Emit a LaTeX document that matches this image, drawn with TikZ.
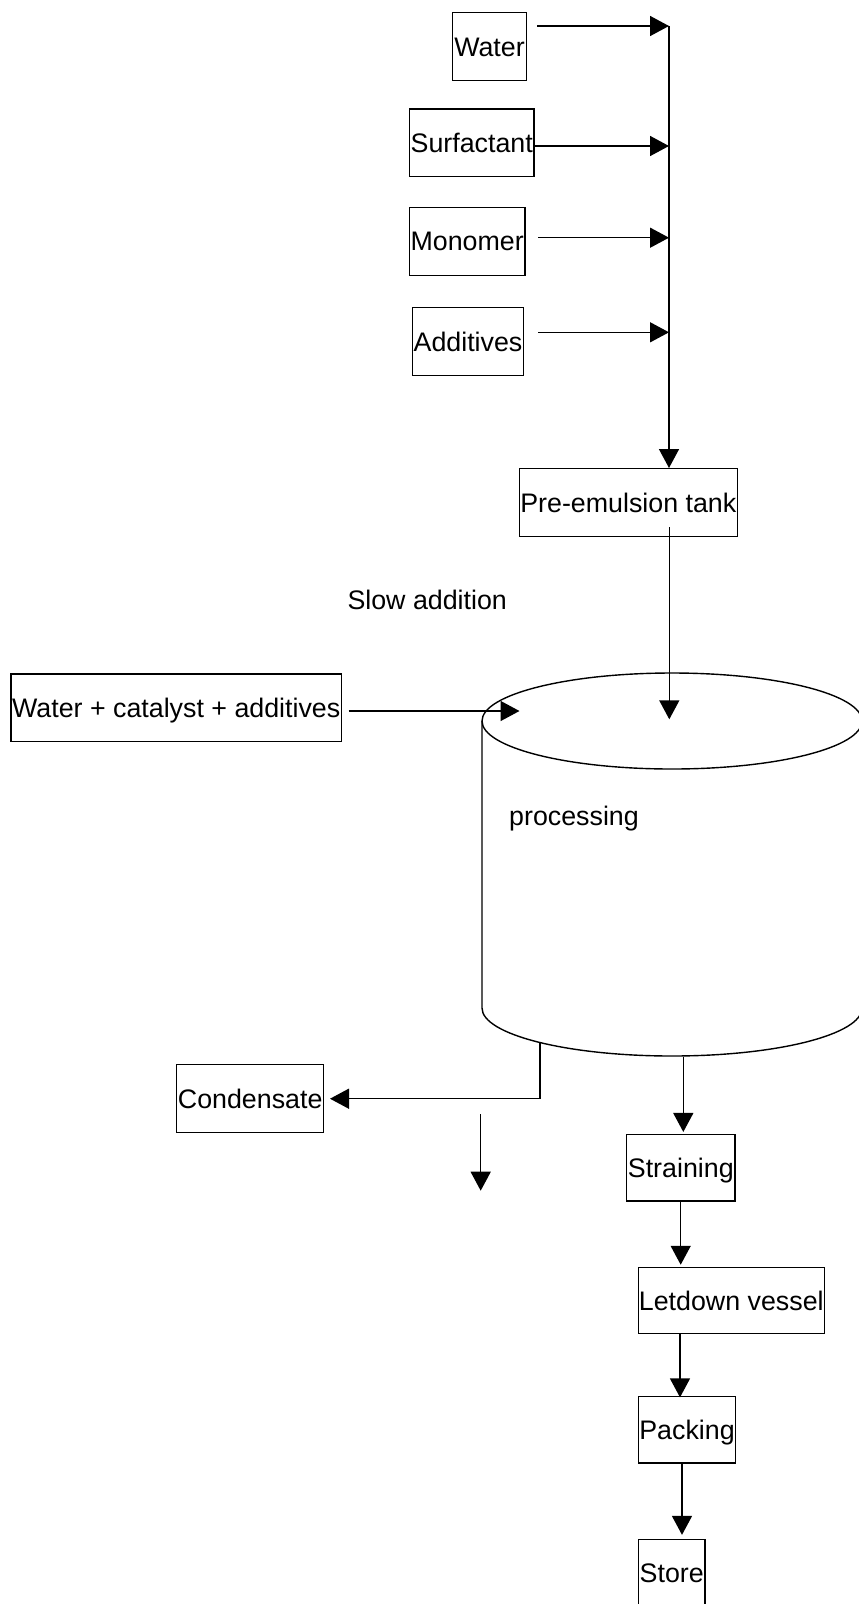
\documentclass[tikz,border=0pt]{standalone}
\usepackage{fontspec}
\setmainfont{Liberation Sans}
\usetikzlibrary{arrows.meta,calc}
\tikzset{
  box/.style={draw, line width=1.4pt, inner sep=0pt, text height=19.2pt, text depth=0pt,
    font=\fontsize{26.8}{30}\selectfont, anchor=center},
  lbl/.style={inner sep=0pt, font=\fontsize{26.8}{30}\selectfont},
  arr/.style={line width=1.5pt, -{Triangle[length=19pt,width=20pt]}},
  ln/.style={line width=1.4pt},
}
\begin{document}
\begin{tikzpicture}[x=1pt,y=-1pt]
\path[use as bounding box] (0,0) rectangle (859,1604);
\clip (0,0) rectangle (859,1604);

% input boxes
\node[box, minimum width=74.4pt, minimum height=67.6pt] (water) at (489.5,46.5) {Water};
\node[box, minimum width=124.7pt, minimum height=67.7pt] (surf) at (471.7,142.8) {Surfactant};
\node[box, minimum width=115.7pt, minimum height=68pt] (mono) at (467.2,241.3) {Monomer};
\node[box, minimum width=110.6pt, minimum height=68.4pt] (addv) at (468,341.5) {Additives};
\node[box, minimum width=218pt, minimum height=68pt] (pre) at (628.3,502.7) {Pre-emulsion tank};
\node[lbl, anchor=base west] (slow) at (347.3,609) {Slow addition};
\node[box, minimum width=330.4pt, minimum height=67.7pt] (wca) at (176.2,707.9) {Water + catalyst + additives};
\node[box, minimum width=147pt, minimum height=68pt] (cond) at (250.2,1098.7) {Condensate};
\node[box, minimum width=108.3pt, minimum height=66.5pt] (strain) at (680.8,1167.7) {Straining};
\node[box, minimum width=186pt, minimum height=66.5pt] (let) at (731.3,1300.5) {Letdown vessel};
\node[box, minimum width=97.4pt, minimum height=66.5pt] (pack) at (687,1429.8) {Packing};
\node[box, minimum width=66.7pt, minimum height=66.5pt] (store) at (671.7,1572.8) {Store};

% cylinder (processing vessel)
\coordinate (cyl) at (672,721);
\draw[ln] (cyl) ellipse [x radius=190, y radius=48];
\draw[ln] (482,721) -- (482,1008) arc[start angle=180, end angle=0, x radius=190, y radius=48] -- (862,721);
\node[lbl, anchor=base west] (proc) at (509,825.5) {processing};

% feed lines
\coordinate (top) at (669,26);
\draw[arr] ($(water.east)+(10,-20.5)$) -- (top);
\draw[arr] (top) -- (top |- pre.north);
\coordinate (s1) at ($(surf.east)+(0,3.2)$);
\draw[arr] (s1) -- (s1 -| top);
\coordinate (m1) at ($(mono.east)+(12.7,-3.6)$);
\draw[arr] (m1) -- (m1 -| top);
\coordinate (a1) at ($(addv.east)+(14.4,-9.2)$);
\draw[arr] (a1) -- (a1 -| top);

% pre-emulsion to vessel
\coordinate (pout) at (669.3,527.3);
\coordinate (cin) at (669.3,719.3);
\draw[arr] (pout) -- (cin);
\coordinate (cin2) at (519.5,711);
\draw[arr] ($(wca.east)+(6.6,3.1)$) -- (cin2);

% vessel outputs
\coordinate (cout) at (540,1042.7);
\draw[arr] (cout) |- ($(cond.east)+(5.6,0)$);
\coordinate (fa1) at (480.7,1114.3);
\coordinate (fa2) at (480.7,1190.7);
\draw[arr] (fa1) -- (fa2);
\coordinate (cbot) at (683.3,1056.9);
\draw[arr] (cbot) -- ($(cbot |- strain.north)+(0,-1.8)$);
\coordinate (sl) at (680.7,1200.9);
\draw[arr] (sl) -- ($(sl |- let.north)+(0,-1.8)$);
\coordinate (lp) at (680,1333.8);
\draw[arr] (lp) -- ($(lp |- pack.north)+(0,1.5)$);
\coordinate (ps) at (682,1463);
\draw[arr] (ps) -- ($(ps |- store.north)+(0,-4)$);
\end{tikzpicture}
\end{document}
